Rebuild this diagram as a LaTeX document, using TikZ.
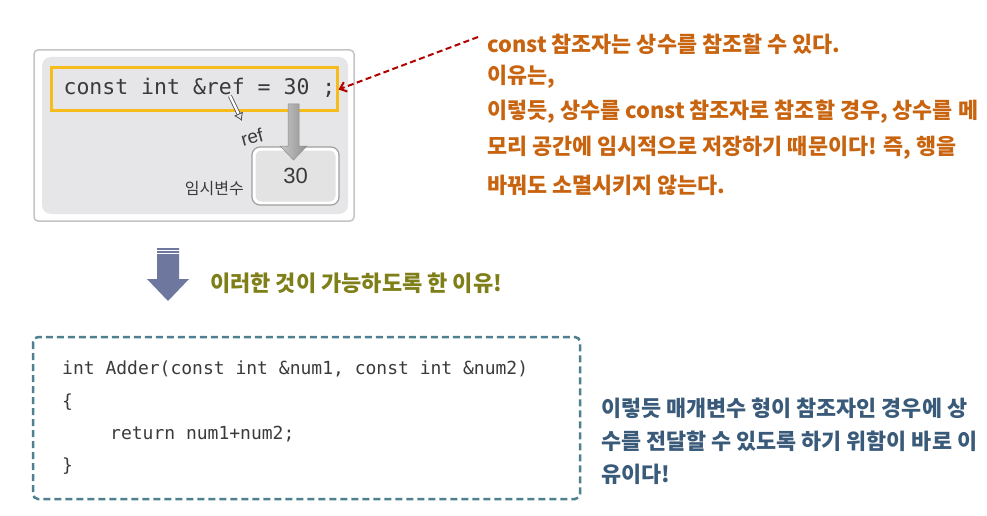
\documentclass[tikz,border=0pt]{standalone}
\usepackage{fontspec}
\setmainfont{Noto Sans}
\newfontfamily\kr{Noto Sans CJK KR}[WordSpace=1.7]
\newfontfamily\krplain{Noto Sans CJK KR}
\newfontfamily\codefont{DejaVu Sans Mono}
\newfontfamily\sansf{Liberation Sans}
\usetikzlibrary{arrows.meta}
\definecolor{boxgray}{HTML}{C4C4C4}
\definecolor{panelgray}{HTML}{E6E6E8}
\definecolor{yel}{HTML}{F5BC1C}
\definecolor{orangetxt}{HTML}{C8640F}
\definecolor{olivetxt}{HTML}{7F7F1A}
\definecolor{bluetxt}{HTML}{3A5A7A}
\definecolor{teal}{HTML}{4F8090}
\definecolor{arrowblue}{HTML}{6E789E}
\definecolor{darkred}{HTML}{B00000}
\definecolor{codegray}{HTML}{3A3A3A}
\tikzset{
  orangeline/.style={anchor=west, inner sep=0pt, text=orangetxt, font=\kr\bfseries\fontsize{21.8}{23}\selectfont},
  blueline/.style={anchor=west, inner sep=0pt, text=bluetxt, font=\kr\bfseries\fontsize{21.8}{23}\selectfont},
  codeline/.style={anchor=west, inner sep=0pt, text=codegray, font=\codefont\fontsize{18}{20}\selectfont},
}
\begin{document}
\begin{tikzpicture}[x=1pt,y=-1pt]
\useasboundingbox (0,0) rectangle (987,516);
% top illustration
\draw[boxgray, line width=1.5pt, rounded corners=4pt, fill=white] (34,50) rectangle (354,221);
\fill[panelgray, rounded corners=9pt] (42,57) rectangle (348,214);
\node[draw=yel, line width=3pt, minimum width=286pt, minimum height=43pt, inner sep=0pt] (decl) at (194,89.5) {};
\node[text=codegray, font=\codefont\fontsize{21.5}{24}\selectfont, inner sep=0pt] (decltxt) at (199.5,88) {const int \&ref = 30 ;};
% temp box
\draw[gray!75, line width=1.2pt, rounded corners=8pt, fill=white] (252,147) rectangle (339,205);
\node[fill=gray!22, rounded corners=6pt, minimum width=80pt, minimum height=51pt, inner sep=0pt,
      font=\sansf\fontsize{22}{24}\selectfont, text=codegray] (tmp) at (295.5,176) {30};
% big gray arrow
\shade[left color=gray!45, right color=gray!85, draw=gray!90, line width=0.5pt]
  (288,104) -- (299,104) -- (299,146) -- (307,146) -- (293.5,160) -- (280,146) -- (288,146) -- cycle;
% small hollow arrow
\coordinate (sa) at (230,96);
\coordinate (sb) at (242,121);
\draw[gray!60!black, double=white, double distance=2.4pt, line width=0.8pt, -{Latex[open,length=8pt,width=10pt]}] (sa) -- (sb);
\node[font=\sansf\fontsize{19}{20}\selectfont, text=codegray, rotate=15, inner sep=0pt] (refl) at (252,137) {ref};
\node[font=\krplain\fontsize{16}{18}\selectfont, text=codegray, anchor=east, inner sep=0pt] (tmpl) at (244,189) {임시변수};
% orange explanation
\node[orangeline] (t1) at (487,44) {const 참조자는 상수를 참조할 수 있다.};
\node[orangeline] (t2) at (487,77) {이유는,};
\node[orangeline] (t3) at (487,112) {이렇듯, 상수를 const 참조자로 참조할 경우, 상수를 메};
\node[orangeline] (t4) at (487,148) {모리 공간에 임시적으로 저장하기 때문이다! 즉, 행을};
\node[orangeline] (t5) at (487,185) {바꿔도 소멸시키지 않는다.};
\coordinate (rs) at (478,37);
\draw[darkred, line width=2pt, dash pattern=on 6pt off 3.5pt, -{Straight Barb[length=6pt,width=10pt]}] (rs) -- (decl.east);
% blue-gray down arrow
\fill[arrowblue] (157,248) -- (179,248) -- (179,279) -- (189,279) -- (168,301) -- (147,279) -- (157,279) -- cycle;
\draw[white, line width=1pt] (156,250.5) -- (180,250.5) (156,253.5) -- (180,253.5);
\node[anchor=west, inner sep=0pt, text=olivetxt, font=\kr\bfseries\fontsize{22}{23}\selectfont] (why) at (210,283) {이러한 것이 가능하도록 한 이유!};
% dashed code box
\draw[teal, line width=2.5pt, dash pattern=on 7pt off 4pt, rounded corners=5pt] (33,337) rectangle (580,499);
\node[codeline] (c1) at (62,369) {int Adder(const int \&num1, const int \&num2)};
\node[codeline] (c2) at (62,402) {\{};
\node[codeline] (c3) at (110,434) {return num1+num2;};
\node[codeline] (c4) at (62,466) {\}};
% blue explanation
\node[blueline] (b1) at (601,408) {이렇듯 매개변수 형이 참조자인 경우에 상};
\node[blueline] (b2) at (601,441) {수를 전달할 수 있도록 하기 위함이 바로 이};
\node[blueline] (b3) at (601,474) {유이다!};
\end{tikzpicture}
\end{document}
